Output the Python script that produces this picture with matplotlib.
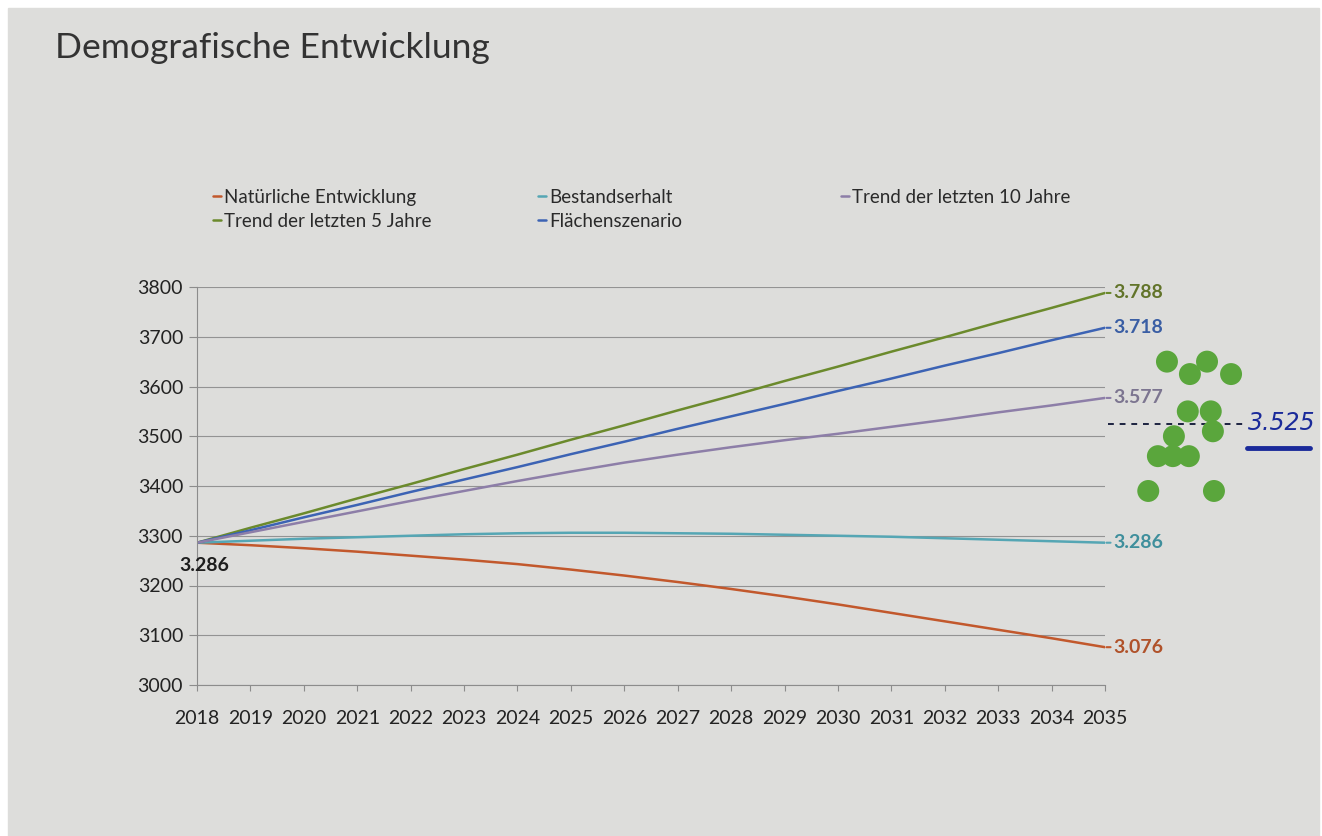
import matplotlib.pyplot as plt
from matplotlib.patches import Rectangle

# projection years and scenario values (population)
years = list(range(2018, 2036))
natuerlich = [3286, 3281, 3275, 3268, 3260, 3252, 3243, 3232, 3220,
              3207, 3193, 3178, 3162, 3145, 3128, 3111, 3094, 3076]
trend5 = [3286, 3316, 3345, 3375, 3404, 3434, 3463, 3493, 3522,
          3552, 3581, 3611, 3640, 3670, 3699, 3729, 3758, 3788]
bestand = [3286, 3290, 3294, 3297, 3300, 3303, 3305, 3306, 3306,
           3305, 3304, 3302, 3300, 3298, 3295, 3292, 3289, 3286]
flaeche = [3286, 3311, 3337, 3362, 3388, 3413, 3438, 3464, 3489,
           3515, 3540, 3565, 3591, 3616, 3642, 3667, 3693, 3718]
trend10 = [3286, 3307, 3328, 3349, 3370, 3390, 3410, 3429, 3447,
           3463, 3478, 3492, 3505, 3519, 3533, 3548, 3562, 3577]

# sticky-dot votes next to the chart and their average
dot_x = [2036.16, 2036.59, 2036.91, 2037.36, 2036.55, 2036.98, 2036.29,
         2037.02, 2035.99, 2036.27, 2036.57, 2035.81, 2037.04]
dot_y = [3650, 3625, 3650, 3625, 3550, 3550, 3500,
         3510, 3460, 3460, 3460, 3390, 3390]
mittel = 3525

font = 'Lato'
paper = '#dddddb'

fig = plt.figure(figsize=(13.22, 8.36), dpi=100, facecolor='white')
fig.patches.append(Rectangle((8 / 1322, 0), 1311 / 1322, 1 - 8 / 836,
                             transform=fig.transFigure, color=paper, zorder=-10))
ax = fig.add_axes([197 / 1322, 1 - 685 / 836, 908 / 1322, 398 / 836])
ax.patch.set_alpha(0)

series = [
    ('Natürliche Entwicklung', natuerlich, '#c2582c', '#b0522a'),
    ('Trend der letzten 5 Jahre', trend5, '#6b8a2c', '#62742a'),
    ('Bestandserhalt', bestand, '#55a6b4', '#3f8f9c'),
    ('Flächenszenario', flaeche, '#3c63b4', '#3a5ea4'),
    ('Trend der letzten 10 Jahre', trend10, '#8d7ea8', '#7c7590'),
]
lines = {}
for name, vals, col, lab_col in series:
    ln, = ax.plot(years, vals, color=col, lw=1.8, label=name,
                  solid_capstyle='round')
    lines[name] = ln
    ax.annotate(f'{vals[-1] / 1000:.3f}', (years[-1], vals[-1]),
                xytext=(6, 0), textcoords='offset points', va='center',
                ha='left', color=lab_col, fontsize=14, fontweight='bold',
                family=font, annotation_clip=False,
                arrowprops=dict(arrowstyle='-', color=col, lw=1.5,
                                shrinkA=0, shrinkB=1))

ax.annotate(f'{natuerlich[0] / 1000:.3f}', (years[0], natuerlich[0]),
            xytext=(7, -23), textcoords='offset pixels', va='center',
            ha='center', color='#1e1e1e', fontsize=14, fontweight='bold',
            family=font)

# dots and average line to the right of the plot
ax.scatter(dot_x, dot_y, s=250, color='#5aa63c', edgecolors='none',
           clip_on=False, zorder=5)
ax.plot([2035.05, 2037.65], [mittel, mittel], color='#1c2240', lw=1.4,
        ls=(0, (3, 3)), clip_on=False)
ax.text(2037.68, mittel + 2, f'{mittel / 1000:.3f}', color='#1a2a9a',
        fontsize=17, style='italic', fontweight='light',
        family='DejaVu Sans', va='center', ha='left', clip_on=False)
ax.plot([2037.66, 2038.84], [mittel - 48, mittel - 48], color='#1a2a9a',
        lw=3.5, solid_capstyle='round', clip_on=False)

ax.set_xlim(2018, 2035)
ax.set_ylim(3000, 3800)
ax.set_xticks(years)
ax.set_yticks(range(3000, 3801, 100))
ax.set_xticklabels([str(y) for y in years], family=font, fontsize=14,
                   color='#222222')
ax.set_yticklabels([str(v) for v in range(3000, 3801, 100)], family=font,
                   fontsize=14, color='#222222')
ax.grid(axis='y', color='#939393', lw=0.8)
ax.set_axisbelow(True)
for side in ['top', 'right']:
    ax.spines[side].set_visible(False)
for side in ['left', 'bottom']:
    ax.spines[side].set_color('#8c8c8c')
    ax.spines[side].set_linewidth(0.8)
ax.tick_params(axis='x', length=4, color='#8c8c8c', pad=14)
ax.tick_params(axis='y', length=6, color='#8c8c8c', pad=4)

fig.text(55 / 1322, 1 - 48 / 836, 'Demografische Entwicklung', family=font,
         fontsize=25.5, color='#333333', va='center')

# legend split into three columns
legend_cols = [
    (['Natürliche Entwicklung', 'Trend der letzten 5 Jahre'], 213),
    (['Bestandserhalt', 'Flächenszenario'], 538),
    (['Trend der letzten 10 Jahre'], 841),
]
for names, x0 in legend_cols:
    fig.legend([lines[n] for n in names], names, loc='upper left',
               bbox_to_anchor=(x0 / 1322, 1 - 189 / 836), frameon=False,
               borderpad=0, borderaxespad=0, handlelength=0.45,
               handletextpad=0.15, labelspacing=0.35,
               prop={'family': font, 'size': 13.5}, labelcolor='#2a2a2a')

fig.savefig('out.png', dpi=100, facecolor=fig.get_facecolor())
